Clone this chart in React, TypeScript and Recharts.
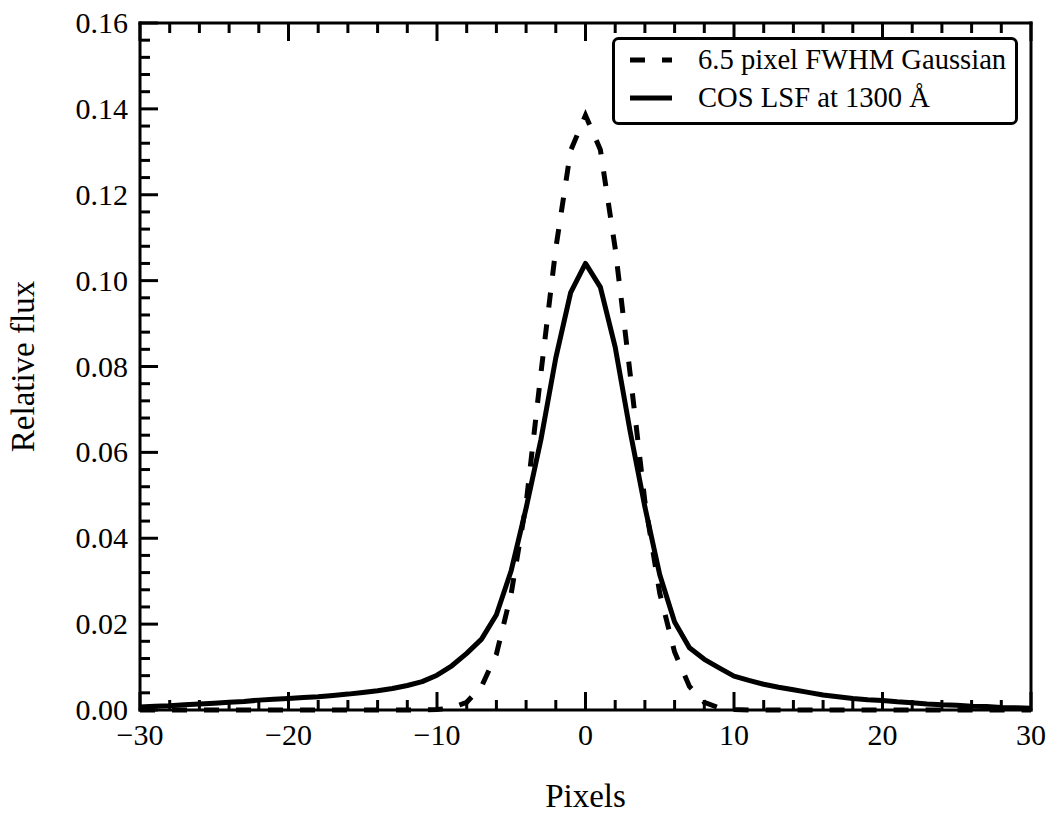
import React from 'react'
import { ComposedChart, Line, XAxis, YAxis, Legend } from 'recharts'

// pixel offsets from line centre
const pixels = [
  -30, -29, -28, -27, -26, -25, -24, -23, -22, -21, -20, -19, -18, -17, -16, -15,
  -14, -13, -12, -11, -10, -9, -8, -7, -6, -5, -4, -3, -2, -1, 0, 1, 2, 3, 4, 5,
  6, 7, 8, 9, 10, 11, 12, 13, 14, 15, 16, 17, 18, 19, 20, 21, 22, 23, 24, 25, 26,
  27, 28, 29, 30,
]

// 6.5 pixel FWHM Gaussian
const gaussian = [
  0, 0, 0, 0, 0, 0, 0, 0, 0, 0, 0, 0, 0, 0, 0, 0, 0, 0, 0, 0,
  0.0001, 0.0005, 0.0018, 0.0055, 0.013, 0.0272, 0.048, 0.0785, 0.1075, 0.1303,
  0.1385,
  0.1305, 0.1075, 0.0785, 0.0485, 0.0272, 0.0135, 0.0055, 0.0018, 0.0005, 0.0001,
  0, 0, 0, 0, 0, 0, 0, 0, 0, 0, 0, 0, 0, 0, 0, 0, 0, 0, 0, 0,
]

// COS LSF at 1300 A (solid curve)
const cosLsf = [
  0.0007, 0.0009, 0.001, 0.0012, 0.0014, 0.0016, 0.0018, 0.002, 0.0023, 0.0025,
  0.0027, 0.0029, 0.0031, 0.0034, 0.0037, 0.0041, 0.0045, 0.005, 0.0057, 0.0066,
  0.0081, 0.0103, 0.0132, 0.0165, 0.0222, 0.0325, 0.047, 0.063, 0.082, 0.0972,
  0.104,
  0.0985, 0.0845, 0.065, 0.0473, 0.0315, 0.0205, 0.0145, 0.0118, 0.0098, 0.0079,
  0.0069, 0.006, 0.0053, 0.0047, 0.0041, 0.0035, 0.0031, 0.0027, 0.0024, 0.0022,
  0.0019, 0.0017, 0.0014, 0.0012, 0.0011, 0.0009, 0.0008, 0.0006, 0.0005, 0.0004,
]

const seriesNames = ['6.5 pixel FWHM Gaussian', 'COS LSF at 1300 Å']

// ticks: majors get labels, minors are short inward marks
const xTicks = Array.from({ length: 31 }, (_, i) => -30 + i * 2)
const yTicks = Array.from({ length: 41 }, (_, i) => +(i * 0.004).toFixed(3))

const FONT = "'Liberation Serif', 'Times New Roman', serif"
const MAJOR = 18
const MINOR = 10

const data = pixels.map((p, i) => ({ pixel: p, gaussian: gaussian[i], lsf: cosLsf[i] }))

const xMajor = (v: number) => v % 10 === 0
const yMajor = (v: number) => Math.abs(v * 50 - Math.round(v * 50)) < 1e-6
const fmtX = (v: number) => (v < 0 ? `\u2212${-v}` : `${v}`)

function BottomTick({ x, y, payload }: any) {
  const v = payload.value
  const major = xMajor(v)
  return (
    <g>
      <line x1={x} x2={x} y1={y} y2={y - (major ? MAJOR : MINOR)} stroke="#000" strokeWidth={3} />
      {major && (
        <text x={x} y={y + 35} textAnchor="middle" fontSize={30} fontFamily={FONT} fill="#000">
          {fmtX(v)}
        </text>
      )}
    </g>
  )
}

function TopTick({ x, y, payload }: any) {
  const len = xMajor(payload.value) ? MAJOR : MINOR
  return <line x1={x} x2={x} y1={y} y2={y + len} stroke="#000" strokeWidth={3} />
}

function LeftTick({ x, y, payload }: any) {
  const v = payload.value
  const major = yMajor(v)
  return (
    <g>
      <line x1={x} x2={x + (major ? MAJOR : MINOR)} y1={y} y2={y} stroke="#000" strokeWidth={3} />
      {major && (
        <text x={x - 12} y={y + 10} textAnchor="end" fontSize={30} fontFamily={FONT} fill="#000">
          {v.toFixed(2)}
        </text>
      )}
    </g>
  )
}

function RightTick({ x, y, payload }: any) {
  const len = yMajor(payload.value) ? MAJOR : MINOR
  return <line x1={x} x2={x - len} y1={y} y2={y} stroke="#000" strokeWidth={3} />
}

function LegendBox({ payload }: any) {
  if (!payload?.length) return null
  return (
    <svg width={406} height={88} style={{ display: 'block' }}>
      <rect x={1.5} y={1.5} width={403} height={85} rx={5} fill="#fff" stroke="#000" strokeWidth={3} />
      {payload.map((entry: any, i: number) => {
        const cy = 23 + i * 38
        return (
          <g key={entry.value}>
            <line
              x1={18}
              x2={60}
              y1={cy}
              y2={cy}
              stroke="#000"
              strokeWidth={5}
              strokeDasharray={entry.payload?.strokeDasharray}
            />
            <text x={86} y={cy + 9} fontSize={28.6} fontFamily={FONT} fill="#000">
              {entry.value}
            </text>
          </g>
        )
      })}
    </svg>
  )
}

const axisLine = { stroke: '#000', strokeWidth: 3, strokeLinecap: 'square' as const }

export default function App() {
  return (
    <div style={{ position: 'absolute', left: 0, top: 0, width: 1051, height: 817, background: '#fff' }}>
      <ComposedChart width={1051} height={817} data={data} margin={{ top: 0, right: 0, bottom: 0, left: 0 }}>
        <XAxis
          xAxisId="bottom"
          dataKey="pixel"
          type="number"
          domain={[-30, 30]}
          ticks={xTicks}
          interval={0}
          height={107}
          tickSize={0}
          tickMargin={0}
          tickLine={false}
          axisLine={axisLine}
          tick={(p: any) => <BottomTick {...p} />}
          label={({ viewBox }: any) => (
            <text
              x={viewBox.x + viewBox.width / 2}
              y={viewBox.y + 97}
              textAnchor="middle"
              fontSize={33}
              fontFamily={FONT}
              fill="#000"
            >
              Pixels
            </text>
          )}
        />
        <XAxis
          xAxisId="top"
          orientation="top"
          dataKey="pixel"
          type="number"
          domain={[-30, 30]}
          ticks={xTicks}
          interval={0}
          height={23}
          tickSize={0}
          tickMargin={0}
          tickLine={false}
          axisLine={axisLine}
          tick={(p: any) => <TopTick {...p} />}
        />
        <YAxis
          yAxisId="left"
          type="number"
          domain={[0, 0.16]}
          ticks={yTicks}
          interval={0}
          width={140}
          tickSize={0}
          tickMargin={0}
          tickLine={false}
          axisLine={axisLine}
          tick={(p: any) => <LeftTick {...p} />}
          label={({ viewBox }: any) => {
            const cx = viewBox.x + 34
            const cy = viewBox.y + viewBox.height / 2
            return (
              <text
                x={cx}
                y={cy}
                transform={`rotate(-90, ${cx}, ${cy})`}
                textAnchor="middle"
                fontSize={33}
                fontFamily={FONT}
                fill="#000"
              >
                Relative flux
              </text>
            )
          }}
        />
        <YAxis
          yAxisId="right"
          orientation="right"
          type="number"
          domain={[0, 0.16]}
          ticks={yTicks}
          interval={0}
          width={20}
          tickSize={0}
          tickMargin={0}
          tickLine={false}
          axisLine={axisLine}
          tick={(p: any) => <RightTick {...p} />}
        />
        <Line
          xAxisId="bottom"
          yAxisId="left"
          type="linear"
          dataKey="gaussian"
          name={seriesNames[0]}
          stroke="#000"
          strokeWidth={5}
          strokeDasharray="15 17"
          dot={false}
          activeDot={false}
          isAnimationActive={false}
        />
        <Line
          xAxisId="bottom"
          yAxisId="left"
          type="linear"
          dataKey="lsf"
          name={seriesNames[1]}
          stroke="#000"
          strokeWidth={5}
          strokeLinejoin="round"
          dot={false}
          activeDot={false}
          isAnimationActive={false}
        />
        <Legend
          layout="horizontal"
          verticalAlign="middle"
          align="center"
          content={(p: any) => <LegendBox {...p} />}
          wrapperStyle={{ position: 'absolute', left: 612, top: 37, width: 406, height: 88 }}
        />
      </ComposedChart>
    </div>
  )
}
